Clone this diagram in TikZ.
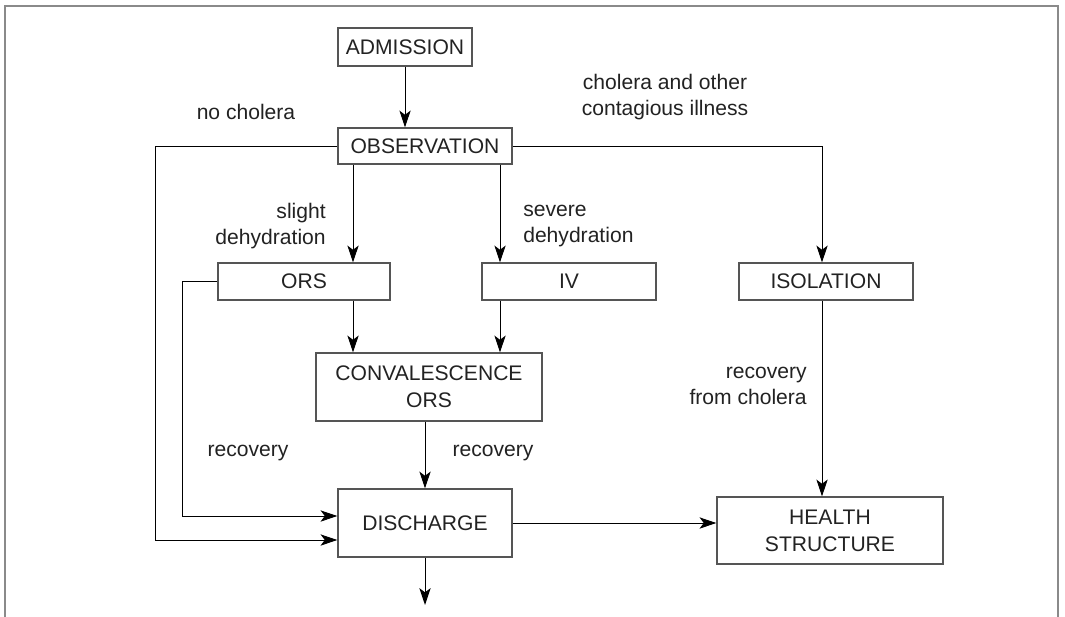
\documentclass[tikz,border=0pt]{standalone}
\usepackage{fontspec}
\setmainfont{Liberation Sans}
\usetikzlibrary{arrows.meta}
\definecolor{boxgray}{HTML}{555555}
\definecolor{framegray}{HTML}{8A8A8A}
\definecolor{inkgray}{HTML}{222222}
\newdimen\unitpx
\unitpx=0.025cm
\begin{document}
\begin{tikzpicture}[x=0.025cm, y=-0.025cm,
  box/.style={draw=boxgray, line width=0.8pt, inner sep=0pt, align=center,
    text=inkgray, font=\fontsize{15}{19}\selectfont},
  arr/.style={line width=0.7pt, -{Stealth[length=12pt, width=8pt, inset=3pt]}},
  lbl/.style={inner sep=0pt, text=inkgray, font=\fontsize{15}{18.5}\selectfont}]
  \useasboundingbox (0,0) rectangle (1065,617);
  % open frame round the chart
  \draw[framegray, line width=0.8pt] (5,617) -- (5,6) -- (1058,6) -- (1058,617);
  % boxes (sizes in pixels of the drawing)
  \node[box, minimum width=134\unitpx, minimum height=38\unitpx] (admission) at (405,47) {ADMISSION};
  \node[box, minimum width=174\unitpx, minimum height=36\unitpx] (observation) at (425,146) {OBSERVATION};
  \node[box, minimum width=172\unitpx, minimum height=37\unitpx] (ors) at (304,281.5) {ORS};
  \node[box, minimum width=174\unitpx, minimum height=37\unitpx] (iv) at (569,281.5) {IV};
  \node[box, minimum width=174\unitpx, minimum height=37\unitpx] (isolation) at (826,281.5) {ISOLATION};
  \node[box, minimum width=226\unitpx, minimum height=68\unitpx] (conv) at (429,387) {CONVALESCENCE\\ORS};
  \node[box, minimum width=174\unitpx, minimum height=68\unitpx] (discharge) at (425,523) {DISCHARGE};
  \node[box, minimum width=226\unitpx, minimum height=67\unitpx] (health) at (830,530.5) {HEALTH\\STRUCTURE};
  % helper points for the connectors
  \coordinate (xl) at (353,0);
  \coordinate (xr) at (500,0);
  \coordinate (xi) at (822,0);
  \coordinate (nocorner) at (155,540);
  \coordinate (orscorner) at (182,516);
  \coordinate (out) at (425,605);
  % connectors
  \draw[arr] (admission) -- (observation.north -| admission);
  \draw[arr] (observation.south -| xl) -- (ors.north -| xl);
  \draw[arr] (observation.south -| xr) -- (iv.north -| xr);
  \draw[arr] (ors.south -| xl) -- (conv.north -| xl);
  \draw[arr] (iv.south -| xr) -- (conv.north -| xr);
  \draw[arr] (conv.south -| discharge.north) -- (discharge.north);
  \draw[arr] (observation.west) -| (nocorner) -- (nocorner -| discharge.west);
  \draw[arr] (ors.west) -| (orscorner) -- (orscorner -| discharge.west);
  \draw[arr] (observation.east) -| (isolation.north -| xi);
  \draw[arr] (isolation.south -| xi) -- (health.north -| xi);
  \draw[arr] (discharge.east) -- (health.west |- discharge.east);
  \draw[arr] (discharge.south) -- (out);
  % labels
  \node[lbl] (lnocholera) at (246,112) {no cholera};
  \node[lbl, align=center] (lcholera) at (665,97.5) {cholera and other\\contagious illness};
  \node[lbl, align=right, anchor=east] (lslight) at (326,226) {slight\\dehydration};
  \node[lbl, align=left, anchor=west] (lsevere) at (523,226) {severe\\dehydration};
  \node[lbl] (lrecleft) at (248,453) {recovery};
  \node[lbl] (lrecmid) at (493,453) {recovery};
  \node[lbl, align=right, anchor=east] (lreciso) at (807,386) {recovery\\from cholera};
\end{tikzpicture}
\end{document}
